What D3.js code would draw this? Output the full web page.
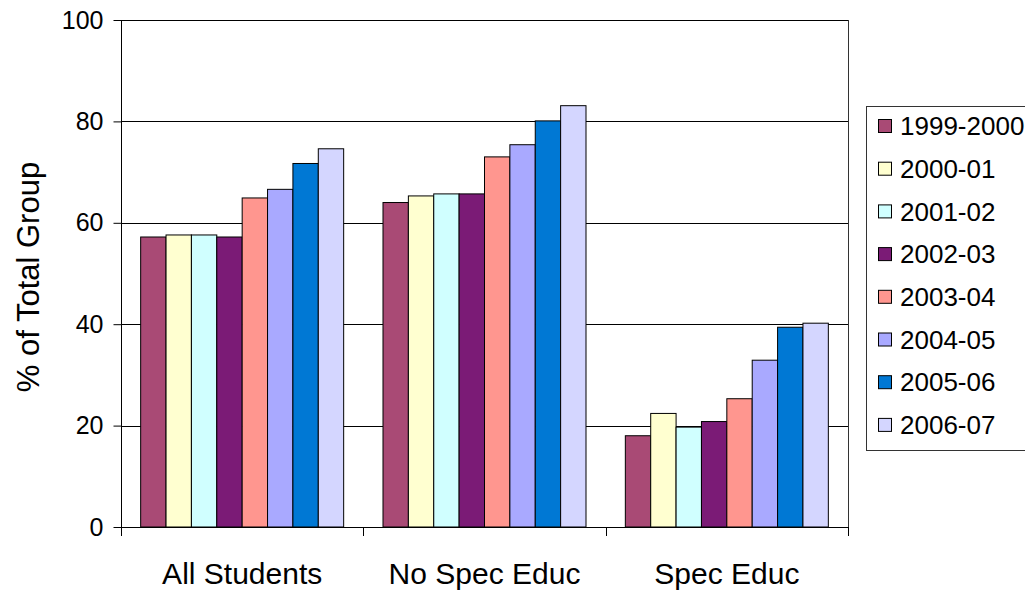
<!DOCTYPE html>
<html>
<head>
<meta charset="utf-8">
<script src="https://cdn.jsdelivr.net/npm/d3@7"></script>
<style>
  html, body { margin: 0; padding: 0; background: #fff; }
  svg { display: block; font-family: "Liberation Sans", Arial, sans-serif; }
</style>
</head>
<body>
<svg id="chart" width="1025" height="590"></svg>
<script>
const categories = ["All Students", "No Spec Educ", "Spec Educ"];
const years = ["1999-2000", "2000-01", "2001-02", "2002-03", "2003-04", "2004-05", "2005-06", "2006-07"];
const colors = ["#A94A75", "#FFFFD0", "#D0FFFF", "#7B1B76", "#FF968F", "#A9A9FF", "#0078D4", "#D4D6FF"];
// values per year, in category order
const v1999 = [57.2, 64.0, 18.0];
const v2000 = [57.6, 65.3, 22.4];
const v2001 = [57.6, 65.7, 19.7];
const v2002 = [57.2, 65.7, 20.8];
const v2003 = [64.9, 73.0, 25.3];
const v2004 = [66.6, 75.4, 32.9];
const v2005 = [71.7, 80.1, 39.4];
const v2006 = [74.6, 83.1, 40.2];
const series = [v1999, v2000, v2001, v2002, v2003, v2004, v2005, v2006];
const yTicks = [0, 20, 40, 60, 80, 100];

const svg = d3.select("#chart");
const pL = 121, pR = 848, pT = 20, pB = 527;

const x0 = d3.scaleBand().domain(categories).range([pL, pR]).paddingInner(0).paddingOuter(0);
const gapRatio = 1.55;
const barW = x0.bandwidth() / (years.length + gapRatio);
const x1 = d3.scaleBand().domain(years)
  .range([barW * gapRatio / 2, x0.bandwidth() - barW * gapRatio / 2])
  .padding(0);
const y = d3.scaleLinear().domain([0, 100]).range([pB, pT]);

// gridlines
svg.append("g").selectAll("line").data(yTicks.filter(d => d > 0)).join("line")
  .attr("x1", pL).attr("x2", pR)
  .attr("y1", d => Math.round(y(d)) + 0.5).attr("y2", d => Math.round(y(d)) + 0.5)
  .attr("stroke", "#000").attr("stroke-width", 1);

// plot right border
svg.append("line").attr("x1", pR + 0.5).attr("x2", pR + 0.5)
  .attr("y1", pT).attr("y2", pB).attr("stroke", "#333");

// bars
const groups = svg.append("g").selectAll("g").data(categories).join("g")
  .attr("transform", d => `translate(${x0(d)},0)`);
groups.selectAll("rect")
  .data((c, ci) => years.map((yr, si) => ({ yr, si, v: series[si][ci] })))
  .join("rect")
  .attr("x", d => x1(d.yr))
  .attr("width", x1.bandwidth())
  .attr("y", d => y(d.v))
  .attr("height", d => y(0) - y(d.v))
  .attr("fill", d => colors[d.si])
  .attr("stroke", "#000").attr("stroke-width", 1);

// y axis
const yAxis = d3.axisLeft(y).tickValues(yTicks).tickSize(8).tickPadding(10).tickFormat(d3.format("d"));
const gy = svg.append("g").attr("transform", `translate(${pL + 0.5},0)`).call(yAxis);
gy.select(".domain").attr("stroke", "#000").attr("d", `M0,${pB}V${pT}`);
gy.selectAll(".tick line").attr("stroke", "#000");
gy.selectAll(".tick text").attr("font-size", 25).attr("fill", "#000")
  .attr("font-family", "Liberation Sans, Arial, sans-serif");

// x axis
const xAxis = d3.axisBottom(x0).tickSize(0).tickPadding(0);
const gx = svg.append("g").attr("transform", `translate(0,${pB + 0.5})`).call(xAxis);
gx.select(".domain").attr("stroke", "#000").attr("d", `M${pL},0H${pR + 1}`);
gx.selectAll(".tick text").attr("font-size", 30).attr("fill", "#000")
  .attr("dy", 0).attr("y", 56)
  .attr("font-family", "Liberation Sans, Arial, sans-serif");
// category boundary ticks
const bounds = categories.map(c => x0(c)).concat([x0.range()[1]]);
svg.append("g").selectAll("line").data(bounds).join("line")
  .attr("x1", d => Math.round(d) + 0.5).attr("x2", d => Math.round(d) + 0.5)
  .attr("y1", pB).attr("y2", pB + 9)
  .attr("stroke", "#000");

// y axis title
svg.append("text")
  .attr("transform", "translate(39,277) rotate(-90)")
  .attr("text-anchor", "middle")
  .attr("font-size", 31)
  .attr("fill", "#000")
  .text("% of Total Group");

// legend
const lg = svg.append("g");
lg.append("rect").attr("x", 866.5).attr("y", 106.5).attr("width", 170).attr("height", 344)
  .attr("fill", "#fff").attr("stroke", "#333").attr("stroke-width", 1);
const items = lg.selectAll("g.item").data(years).join("g").attr("class", "item")
  .attr("transform", (d, i) => `translate(0,${126 + i * 42.7})`);
items.append("rect").attr("x", 878.5).attr("y", -6.5).attr("width", 13).attr("height", 13)
  .attr("fill", (d, i) => colors[i]).attr("stroke", "#000").attr("stroke-width", 1);
items.append("text").attr("x", 900).attr("y", 0).attr("dy", "0.35em")
  .attr("font-size", 26).attr("fill", "#000").text(d => d);
</script>
</body>
</html>
